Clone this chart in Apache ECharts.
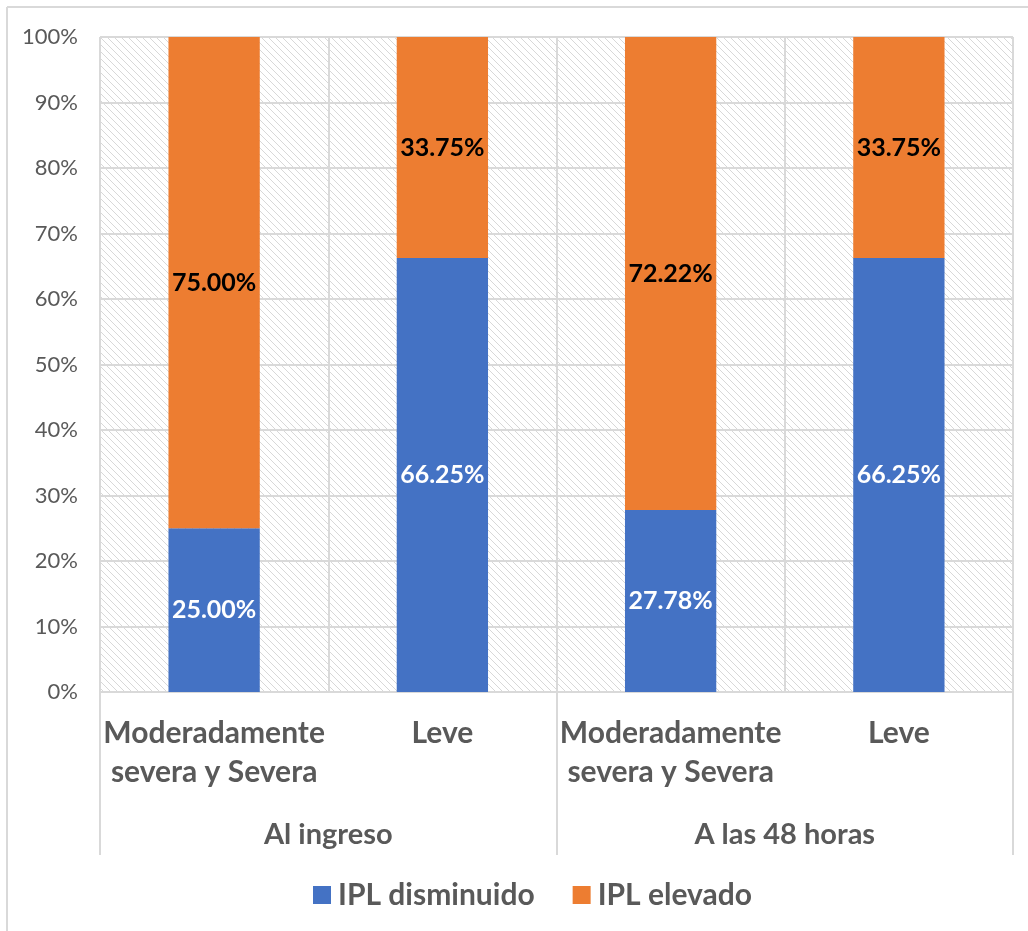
<!DOCTYPE html>
<html>
<head>
<meta charset="utf-8">
<style>
  html, body { margin: 0; padding: 0; background: #ffffff; }
  #chart { width: 1028px; height: 931px; }
</style>
<script src="https://cdn.jsdelivr.net/npm/echarts@6/dist/echarts.min.js"></script>
</head>
<body>
<div id="chart"></div>
<script>
// Severity categories within each time point
const categories = ['Moderadamente\nsevera y Severa', 'Leve', 'Moderadamente\nsevera y Severa', 'Leve'];
// Time-point groups spanning two categories each
const groups = ['Al ingreso', 'A las 48 horas'];
// Percentages per series
const seriesNames = ['IPL disminuido', 'IPL elevado'];
const iplDisminuido = [25.00, 66.25, 27.78, 66.25];
const iplElevado = [75.00, 33.75, 72.22, 33.75];
// Y axis ticks
const yTicks = [0, 10, 20, 30, 40, 50, 60, 70, 80, 90, 100];

const FONT = 'Lato';
const GRAY = '#595959';
const LINE = '#d9d9d9';

// Diagonal hatch used as plot-area background
function hatchPattern() {
  const c = document.createElement('canvas');
  const s = 7;
  c.width = s; c.height = s;
  const ctx = c.getContext('2d');
  ctx.fillStyle = '#ffffff';
  ctx.fillRect(0, 0, s, s);
  ctx.fillStyle = '#d8d8d8';
  for (let i = 0; i < s; i++) {
    ctx.fillRect(i, i, 1, 1);
  }
  return c;
}

const chart = echarts.init(document.getElementById('chart'), null, { renderer: 'canvas' });

const option = {
  backgroundColor: '#ffffff',
  animation: false,
  textStyle: { fontFamily: FONT },
  grid: {
    left: 100, right: 15, top: 37, bottom: 239,
    show: true,
    borderWidth: 0,
    backgroundColor: { image: hatchPattern(), repeat: 'repeat' }
  },
  legend: {
    data: seriesNames,
    bottom: 16,
    left: 308,
    itemWidth: 18,
    itemHeight: 18,
    itemGap: 38,
    icon: 'rect',
    textStyle: { fontFamily: FONT, fontSize: 30, fontWeight: 'bold', color: GRAY, padding: [0, 0, 0, 2] }
  },
  xAxis: [
    {
      type: 'category',
      data: categories,
      position: 'bottom',
      axisLine: { show: true, lineStyle: { color: LINE, width: 2 } },
      axisTick: { show: false },
      splitLine: { show: true, interval: 0, lineStyle: { color: LINE, width: 2 } },
      axisLabel: {
        interval: 0,
        margin: 22,
        fontFamily: FONT,
        fontSize: 30,
        fontWeight: 'bold',
        color: GRAY,
        lineHeight: 39
      }
    },
    {
      type: 'category',
      data: groups,
      position: 'bottom',
      axisLine: { show: false },
      axisTick: { show: true, length: 163, interval: 0, lineStyle: { color: LINE, width: 2 } },
      splitLine: { show: false },
      axisLabel: {
        interval: 0,
        margin: 128,
        fontFamily: FONT,
        fontSize: 29,
        fontWeight: 'bold',
        color: GRAY
      }
    }
  ],
  yAxis: {
    type: 'value',
    min: yTicks[0],
    max: yTicks[yTicks.length - 1],
    interval: 10,
    axisLine: { show: false },
    axisTick: { show: false },
    splitLine: { show: true, lineStyle: { color: LINE, width: 2 } },
    axisLabel: {
      margin: 22,
      fontFamily: FONT,
      fontSize: 22,
      color: GRAY,
      formatter: v => v + '%'
    }
  },
  series: [
    {
      name: seriesNames[0],
      type: 'bar',
      stack: 'total',
      xAxisIndex: 0,
      barWidth: '40%',
      data: iplDisminuido,
      itemStyle: { color: '#4472c4' },
      label: {
        show: true,
        position: 'inside',
        fontFamily: FONT,
        fontSize: 25,
        fontWeight: 'bold',
        color: '#ffffff',
        formatter: p => p.value.toFixed(2) + '%'
      }
    },
    {
      name: seriesNames[1],
      type: 'bar',
      stack: 'total',
      xAxisIndex: 0,
      barWidth: '40%',
      data: iplElevado,
      itemStyle: { color: '#ed7d31' },
      label: {
        show: true,
        position: 'inside',
        fontFamily: FONT,
        fontSize: 25,
        fontWeight: 'bold',
        color: '#000000',
        formatter: p => p.value.toFixed(2) + '%'
      }
    }
  ],
  graphic: [
    { type: 'line', shape: { x1: 7, y1: 7, x2: 1028, y2: 7 }, style: { stroke: LINE, lineWidth: 2 }, silent: true },
    { type: 'line', shape: { x1: 7, y1: 7, x2: 7, y2: 931 }, style: { stroke: LINE, lineWidth: 2 }, silent: true }
  ]
};

chart.setOption(option);
</script>
</body>
</html>
